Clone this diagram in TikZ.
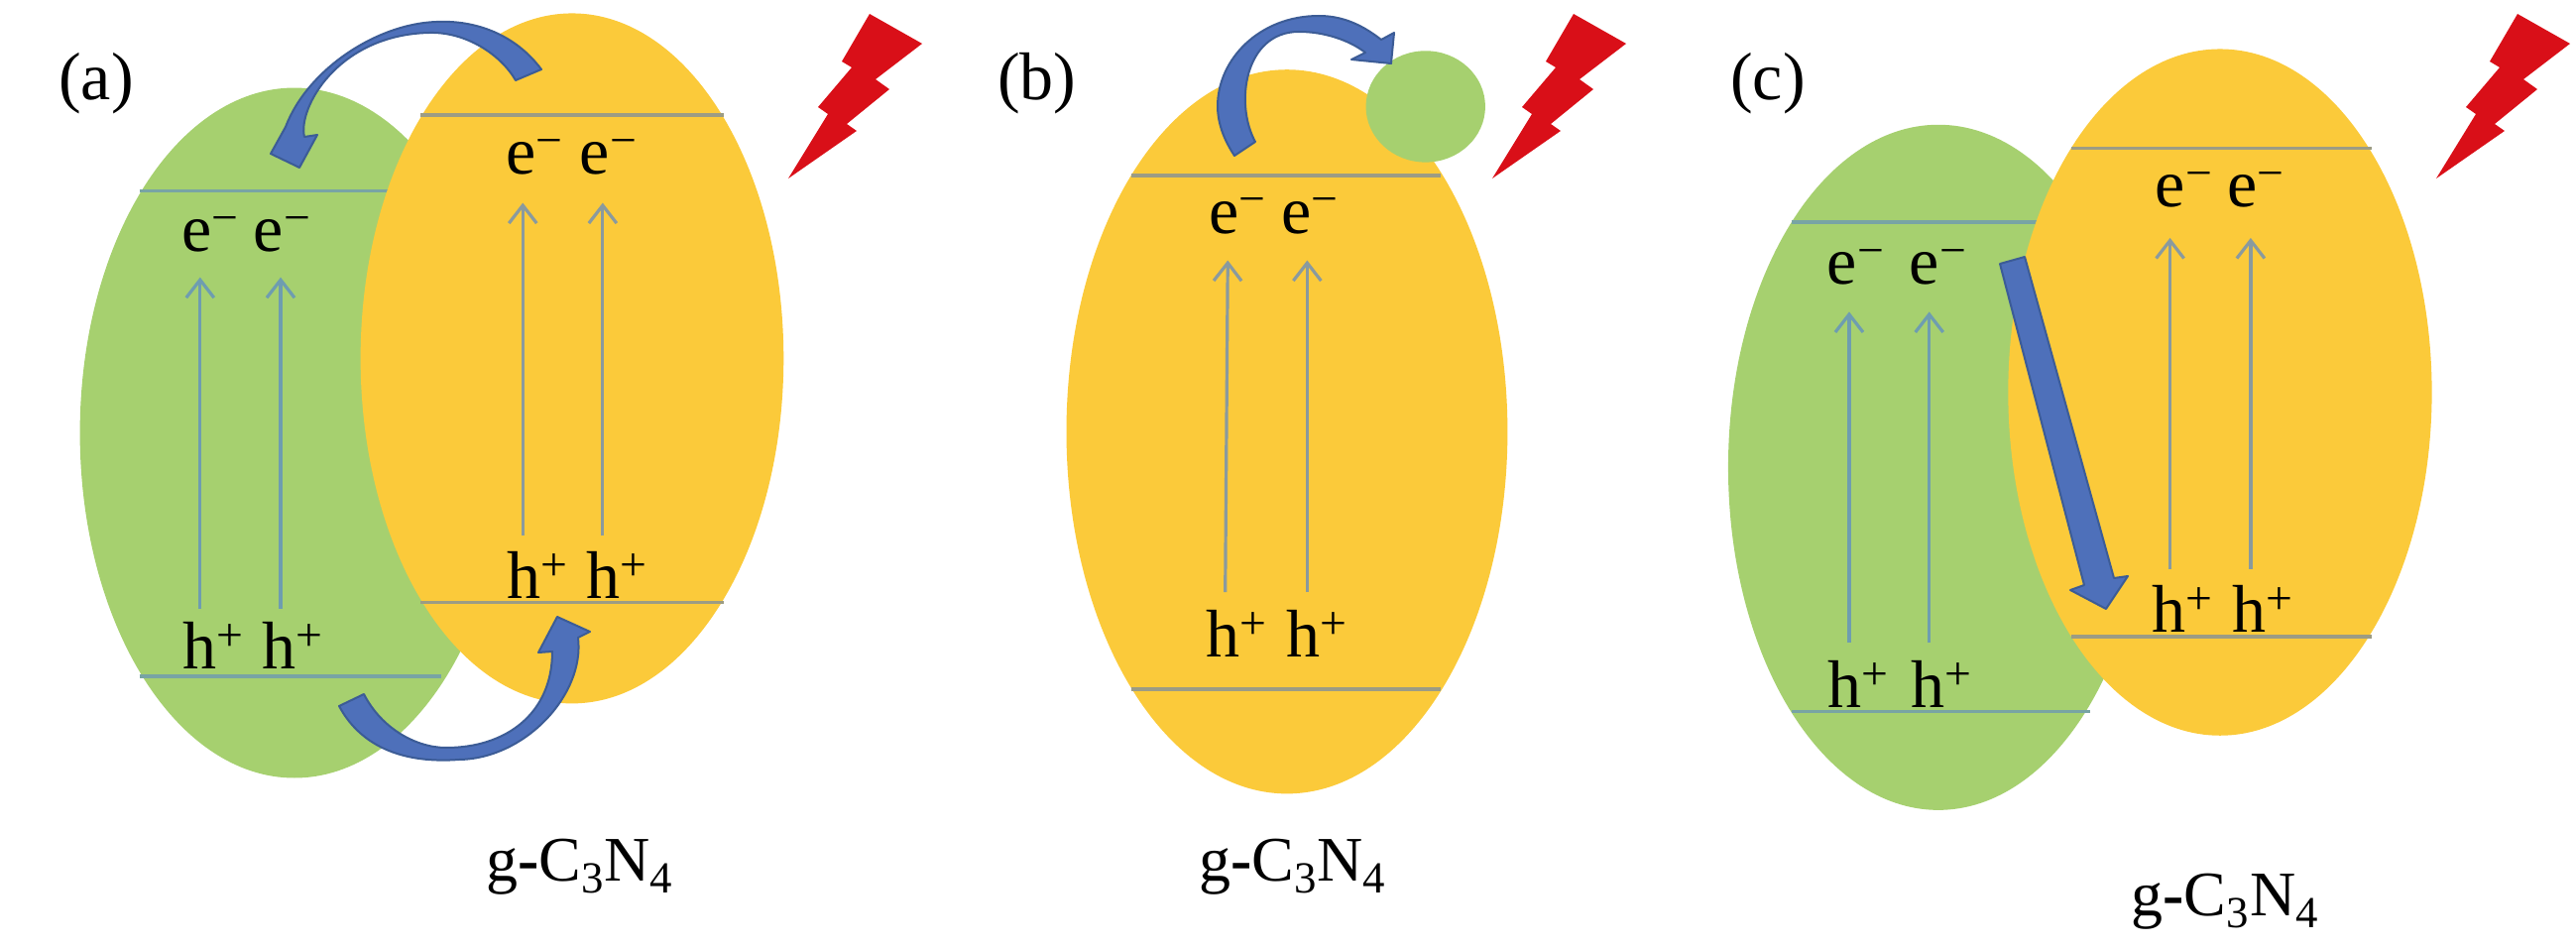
\documentclass[tikz,border=0pt]{standalone}
\usepackage{fontspec}
\setmainfont{Liberation Serif}
\usetikzlibrary{arrows.meta}
\definecolor{gfill}{HTML}{A6D06F}
\definecolor{yfill}{HTML}{FBCA3A}
\definecolor{blockblue}{HTML}{4E70BA}
\definecolor{blockedge}{HTML}{3C5C96}
\definecolor{boltred}{HTML}{D90F18}
\definecolor{glin}{HTML}{6E9DB0}
\definecolor{ylin}{HTML}{8A9A9E}
\definecolor{gband}{HTML}{78A4A4}
\definecolor{yband}{HTML}{9C9C84}
\newcommand{\emin}{e\textsuperscript{\char"2212}}
\newcommand{\hplus}{h\textsuperscript{+}}
\newcommand{\gcn}{g\textbf{-}C\textsubscript{3}N\textsubscript{4}}
\tikzset{
  greenblob/.style={fill=gfill},
  yellowblob/.style={fill=yfill},
  bandg/.style={draw=gband,line width=1.8pt},
  bandy/.style={draw=yband,line width=1.8pt},
  exg/.style={draw=glin,line width=1.6pt,-{Straight Barb[length=9pt,width=14pt]}},
  exy/.style={draw=ylin,line width=1.6pt,-{Straight Barb[length=9pt,width=14pt]}},
  carrier/.style={anchor=base,inner sep=0pt,font=\fontsize{34}{36}\selectfont},
  paneltag/.style={anchor=base,inner sep=0pt,font=\fontsize{34}{38}\selectfont},
  material/.style={anchor=base,inner sep=0pt,font=\fontsize{32}{36}\selectfont},
  blockarrow/.style={fill=blockblue,draw=blockedge,line width=1pt,line join=round},
  bolt/.style={fill=boltred},
}
\newcommand{\boltpath}{(0,0) -- (53,30) -- (6,66) -- (20,76) -- (-23,111) -- (-13,118) -- (-82,166) -- (-42,101) -- (-52,94) -- (-18,54) -- (-28,48) -- cycle}
\begin{document}
\begin{tikzpicture}[x=0.5pt,y=-0.5pt]
\useasboundingbox (0,0) rectangle (2598,957);
% panel a
\begin{scope}[x=0.30303pt,y=-0.30525pt]
  \fill[greenblob] (490,715) ellipse [x radius=357,y radius=570];
  \draw[bandg] (232,315) -- (700,315);
  \draw[bandg] (232,1117) -- (735,1117);
  \fill[yellowblob] (952,592) ellipse [x radius=352,y radius=570];
  \draw[bandy] (700,190) -- (1205,190);
  \draw[bandy] (700,995) -- (1205,995);
  \coordinate (a1s) at (333,1005); \coordinate (a1t) at (333,458);
  \coordinate (a2s) at (467,1005); \coordinate (a2t) at (467,458);
  \coordinate (a3s) at (870,885);  \coordinate (a3t) at (870,335);
  \coordinate (a4s) at (1003,885); \coordinate (a4t) at (1003,335);
  \draw[exg] (a1s) -- (a1t);
  \draw[exg] (a2s) -- (a2t);
  \draw[exy] (a3s) -- (a3t);
  \draw[exy] (a4s) -- (a4t);
  \node[carrier] (ae1) at (351,415) {\emin};
  \node[carrier] (ae2) at (470,415) {\emin};
  \node[carrier] (ae3) at (890,288) {\emin};
  \node[carrier] (ae4) at (1013,288) {\emin};
  \node[carrier] (ah1) at (355,1105) {\hplus};
  \node[carrier] (ah2) at (487,1105) {\hplus};
  \node[carrier] (ah3) at (895,988) {\hplus};
  \node[carrier] (ah4) at (1027,988) {\hplus};
  \node[paneltag] (atag) at (160,165) {(a)};
  \node[material] (amat) at (965,1455) {\gcn};
\end{scope}
\path[blockarrow] (520,81) -- (546,70) .. controls (520,35) and (480,20) .. (440,22)
  .. controls (380,24) and (310,70) .. (288,128) -- (273,155) -- (302,169) -- (320,136) -- (307,138)
  .. controls (300,110) and (340,35) .. (433,33) .. controls (470,32) and (505,55) .. (520,81) -- cycle;
\path[blockarrow] (342,712) -- (367,700) .. controls (385,735) and (420,754) .. (450,754)
  .. controls (510,754) and (557,720) .. (557,657) -- (543,658) -- (562,622) -- (595,637) -- (583,643)
  .. controls (590,700) and (530,765) .. (463,766) .. controls (410,770) and (365,755) .. (342,712) -- cycle;
\fill[bolt,shift={(877,14)}] \boltpath;
% panel b
\begin{scope}[x=0.2551pt,y=-0.30525pt,xshift=475pt]
  \fill[yellowblob] (682,713) ellipse [x radius=436,y radius=598];
  \draw[bandy] (375,290) -- (985,290);
  \draw[bandy] (375,1138) -- (985,1138);
  \fill[greenblob] (956,176) ellipse [x radius=118,y radius=92];
  \coordinate (b1s) at (560,978); \coordinate (b1t) at (565,430);
  \coordinate (b2s) at (722,978); \coordinate (b2t) at (722,430);
  \draw[exy] (b1s) -- (b1t);
  \draw[exy] (b2s) -- (b2t);
  \node[carrier] (be1) at (585,385) {\emin};
  \node[carrier] (be2) at (728,385) {\emin};
  \node[carrier] (bh1) at (583,1085) {\hplus};
  \node[carrier] (bh2) at (742,1085) {\hplus};
  \node[paneltag] (btag) at (188,165) {(b)};
  \node[material] (bmat) at (693,1455) {\gcn};
\end{scope}
\path[blockarrow] (1245,157) -- (1266,143) .. controls (1245,105) and (1255,32) .. (1310,32)
  .. controls (1335,32) and (1360,40) .. (1377,53) -- (1363,60) -- (1403,64) -- (1406,33) -- (1393,40)
  .. controls (1370,22) and (1350,16) .. (1330,16) .. controls (1270,16) and (1228,60) .. (1228,107)
  .. controls (1228,125) and (1235,142) .. (1245,157) -- cycle;
\fill[bolt,shift={(1587,14)}] \boltpath;
% panel c
\begin{scope}[x=0.28637pt,y=-0.30525pt,xshift=850pt]
  \fill[greenblob] (445,772) ellipse [x radius=370,y radius=566];
  \draw[bandg] (187,367) -- (660,367);
  \draw[bandg] (187,1175) -- (712,1175);
  \fill[yellowblob] (941,648) ellipse [x radius=373,y radius=567];
  \draw[bandy] (680,245) -- (1208,245);
  \draw[bandy] (680,1052) -- (1208,1052);
  \coordinate (c1s) at (288,1062); \coordinate (c1t) at (288,515);
  \coordinate (c2s) at (429,1062); \coordinate (c2t) at (429,515);
  \coordinate (c3s) at (853,940);  \coordinate (c3t) at (853,393);
  \coordinate (c4s) at (995,940);  \coordinate (c4t) at (995,393);
  \draw[exg] (c1s) -- (c1t);
  \draw[exg] (c2s) -- (c2t);
  \draw[exy] (c3s) -- (c3t);
  \draw[exy] (c4s) -- (c4t);
  \node[carrier] (ce1) at (300,470) {\emin};
  \node[carrier] (ce2) at (445,470) {\emin};
  \node[carrier] (ce3) at (878,342) {\emin};
  \node[carrier] (ce4) at (1005,342) {\emin};
  \node[carrier] (ch1) at (305,1168) {\hplus};
  \node[carrier] (ch2) at (452,1168) {\hplus};
  \node[carrier] (ch3) at (876,1045) {\hplus};
  \node[carrier] (ch4) at (1017,1045) {\hplus};
  \node[paneltag] (ctag) at (145,165) {(c)};
  \node[material] (cmat) at (950,1512) {\gcn};
\end{scope}
\path[blockarrow] (2017,266) -- (2042,259) -- (2132,583) -- (2146,581) -- (2124,614) -- (2088,595) -- (2102,590) -- cycle;
\fill[bolt,shift={(2539,14)}] \boltpath;
\end{tikzpicture}
\end{document}
